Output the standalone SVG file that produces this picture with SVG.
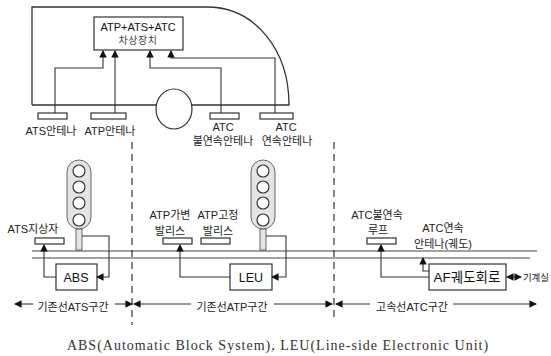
<svg xmlns="http://www.w3.org/2000/svg" width="551" height="356" viewBox="0 0 551 356">
<style>
text{font-family:"Liberation Sans","Noto Sans CJK KR",sans-serif;font-size:11px;fill:#222;text-anchor:middle}
.big{font-size:12.5px;fill:#111}
.top{font-size:11px;fill:#111}
.sm{font-size:10px;letter-spacing:.5px;fill:#444}
.cap{font-family:"Liberation Serif","Noto Sans CJK KR",serif;font-size:14px;fill:#333;letter-spacing:1px}
.b{fill:#fff;stroke:#333;stroke-width:1.2}
.w{fill:none;stroke:#333;stroke-width:1.1}
.h{fill:none;stroke:#333;stroke-width:1.1;marker-end:url(#a)}
.s{fill:#e4e4e4;stroke:#666;stroke-width:1}
.l{fill:#fff;stroke:#333;stroke-width:1.2}
.d{stroke:#222;stroke-width:1.1;stroke-dasharray:7 5;fill:none}
.t{stroke:#444;stroke-width:1.2;fill:none}
</style>
<defs><marker id="a" viewBox="0 0 8 8" refX="7" refY="4" markerWidth="7.5" markerHeight="7.5" markerUnits="userSpaceOnUse" orient="auto"><path d="M0 0L8 4L0 8Z" fill="#111"/></marker></defs>
<g id="train"><path class="w" d="M32 105V7H207C255 7 289 50 289 105H32" style="stroke-width:1.3"/></g>
<g id="wheel"><ellipse cx="174" cy="109" rx="18" ry="20" class="b"/></g>
<g id="onboard"><rect class="b" x="94" y="17" width="89" height="33"/><text x="138" y="31" class="top">ATP+ATS+ATC</text><text x="138" y="44" class="sm">차상장치</text></g>
<g id="ats-ant"><rect class="b" x="38" y="113" width="29" height="6"/><text x="51" y="135">ATS안테나</text></g>
<g id="atp-ant"><rect class="b" x="91" y="113" width="35" height="6"/><text x="110" y="135">ATP안테나</text></g>
<g id="atc-ant1"><rect class="b" x="210" y="113" width="29" height="6"/><text x="223" y="131">ATC</text><text x="223" y="145">불연속안테나</text></g>
<g id="atc-ant2"><rect class="b" x="260" y="113" width="33" height="6"/><text x="286" y="131">ATC</text><text x="287" y="145">연속안테나</text></g>
<g id="signal1"><rect class="s" x="76" y="229" width="6" height="21"/><rect class="s" x="67" y="160" width="24" height="69" rx="12"/><circle class="l" cx="79" cy="171" r="6"/><circle class="l" cx="79" cy="187" r="6"/><circle class="l" cx="79" cy="203" r="6"/><circle class="l" cx="79" cy="220" r="6"/></g>
<g id="signal2"><rect class="s" x="260" y="229" width="6" height="21"/><rect class="s" x="251" y="160" width="24" height="69" rx="12"/><circle class="l" cx="263" cy="171" r="6"/><circle class="l" cx="263" cy="187" r="6"/><circle class="l" cx="263" cy="203" r="6"/><circle class="l" cx="263" cy="220" r="6"/></g>
<g id="ats-ground"><rect class="b" x="35" y="238" width="29" height="6"/><text x="33" y="233">ATS지상자</text></g>
<g id="atp-var"><rect class="b" x="163" y="238" width="29" height="6"/><text x="170" y="219">ATP가변</text><text x="170" y="235">발리스</text></g>
<g id="atp-fix"><rect class="b" x="201" y="238" width="29" height="6"/><text x="218" y="219">ATP고정</text><text x="218" y="235">발리스</text></g>
<g id="atc-loop"><rect class="b" x="367" y="238" width="29" height="6"/><text x="377" y="219">ATC불연속</text><text x="378" y="234">루프</text></g>
<g id="atc-track"><text x="443" y="232">ATC연속</text><text x="443" y="248">안테나(궤도)</text></g>
<g id="abs"><rect class="b" x="56" y="264" width="41" height="26"/><text x="76" y="282" class="big">ABS</text></g>
<g id="leu"><rect class="b" x="230" y="264" width="42" height="26"/><text x="251" y="282" class="big">LEU</text></g>
<g id="af"><rect class="b" x="429" y="264" width="77" height="26"/><text x="467" y="282" class="big" style="font-size:13.5px">AF궤도회로</text></g>
<g id="labels"><text x="536" y="281" style="font-size:9.5px">기계실</text><text x="73" y="311">기존선ATS구간</text><text x="232" y="311">기존선ATP구간</text><text x="412" y="311">고속선ATC구간</text><text x="278" y="350" class="cap">ABS(Automatic Block System), LEU(Line-side Electronic Unit)</text></g>
<g id="connectors">
<path class="t" d="M32 251H537M32 258H530"/>
<path class="d" d="M132 142V325M334 142V322"/>
<path class="h" d="M55 113V68H103V51"/><path class="h" d="M115 113V51"/><path class="h" d="M221 113V68H150V51"/><path class="h" d="M275 113V58H171V51"/>
<path class="h" d="M82 236H109V277H97"/><path class="h" d="M56 277H44V245"/>
<path class="h" d="M230 277H180V245"/><path class="h" d="M266 236H286V277H272"/>
<path class="h" d="M429 277H381V245"/><path class="h" d="M429 271H423V258"/>
<path class="h" d="M513 277H507"/><path class="h" d="M513 277H521"/>
<path class="h" d="M33 304H15"/><path class="h" d="M115 304H132"/><path class="h" d="M191 304H134"/><path class="h" d="M274 304H332"/><path class="h" d="M370 304H336"/><path class="h" d="M453 304H536"/>
</g>
</svg>
